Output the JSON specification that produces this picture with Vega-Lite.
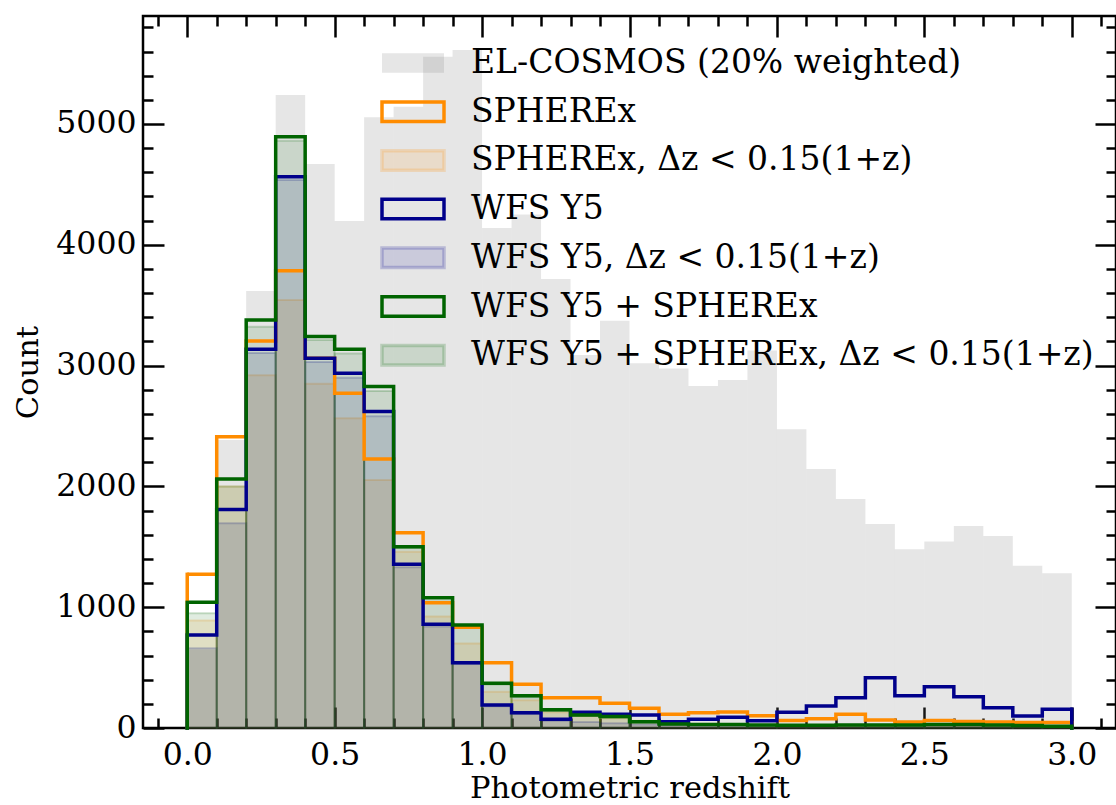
{
"$schema": "https://vega.github.io/schema/vega-lite/v6.json",
"width": 973, "height": 712,
"autosize": {"type": "none"},
"padding": {"left": 143, "top": 16, "right": 0, "bottom": 77},
"config": {
 "view": {"stroke": "black", "strokeWidth": 2.5},
 "font": "DejaVu Serif",
 "axis": {"domain": false, "grid": false, "tickColor": "black", "tickWidth": 2.5, "labelFont": "DejaVu Serif", "labelFontSize": 31.5, "labelColor": "black", "titleFont": "DejaVu Serif", "titleFontSize": 30.5, "titleFontWeight": "normal", "titleColor": "black", "labelOverlap": false, "labelFlush": false}
},
"datasets": {"h": [
{"s":"E","x0":0,"x1":0.1,"n":650},{"s":"E","x0":0.1,"x1":0.2,"n":2385},{"s":"E","x0":0.2,"x1":0.3,"n":3617},{"s":"E","x0":0.3,"x1":0.4,"n":5240},{"s":"E","x0":0.4,"x1":0.5,"n":4669},{"s":"E","x0":0.5,"x1":0.6,"n":4197},{"s":"E","x0":0.6,"x1":0.7,"n":5055},{"s":"E","x0":0.7,"x1":0.8,"n":5143},{"s":"E","x0":0.8,"x1":0.9,"n":5557},{"s":"E","x0":0.9,"x1":1,"n":5613},{"s":"E","x0":1,"x1":1.1,"n":4140},{"s":"E","x0":1.1,"x1":1.2,"n":4250},{"s":"E","x0":1.2,"x1":1.3,"n":3717},{"s":"E","x0":1.3,"x1":1.4,"n":3088},{"s":"E","x0":1.4,"x1":1.5,"n":3372},{"s":"E","x0":1.5,"x1":1.6,"n":3019},{"s":"E","x0":1.6,"x1":1.7,"n":2977},{"s":"E","x0":1.7,"x1":1.8,"n":2831},{"s":"E","x0":1.8,"x1":1.9,"n":2881},{"s":"E","x0":1.9,"x1":2,"n":3124},{"s":"E","x0":2,"x1":2.1,"n":2473},{"s":"E","x0":2.1,"x1":2.2,"n":2144},{"s":"E","x0":2.2,"x1":2.3,"n":1896},{"s":"E","x0":2.3,"x1":2.4,"n":1689},{"s":"E","x0":2.4,"x1":2.5,"n":1479},{"s":"E","x0":2.5,"x1":2.6,"n":1543},{"s":"E","x0":2.6,"x1":2.7,"n":1672},{"s":"E","x0":2.7,"x1":2.8,"n":1589},{"s":"E","x0":2.8,"x1":2.9,"n":1344},{"s":"E","x0":2.9,"x1":3,"n":1281},
{"s":"S","x0":0,"x1":0.1,"n":1272},{"s":"S","x0":0.1,"x1":0.2,"n":2410},{"s":"S","x0":0.2,"x1":0.3,"n":3204},{"s":"S","x0":0.3,"x1":0.4,"n":3786},{"s":"S","x0":0.4,"x1":0.5,"n":3060},{"s":"S","x0":0.5,"x1":0.6,"n":2771},{"s":"S","x0":0.6,"x1":0.7,"n":2227},{"s":"S","x0":0.7,"x1":0.8,"n":1617},{"s":"S","x0":0.8,"x1":0.9,"n":1037},{"s":"S","x0":0.9,"x1":1,"n":833},{"s":"S","x0":1,"x1":1.1,"n":541},{"s":"S","x0":1.1,"x1":1.2,"n":362},{"s":"S","x0":1.2,"x1":1.3,"n":251},{"s":"S","x0":1.3,"x1":1.4,"n":251},{"s":"S","x0":1.4,"x1":1.5,"n":204},{"s":"S","x0":1.5,"x1":1.6,"n":163},{"s":"S","x0":1.6,"x1":1.7,"n":113},{"s":"S","x0":1.7,"x1":1.8,"n":127},{"s":"S","x0":1.8,"x1":1.9,"n":132},{"s":"S","x0":1.9,"x1":2,"n":102},{"s":"S","x0":2,"x1":2.1,"n":63},{"s":"S","x0":2.1,"x1":2.2,"n":77},{"s":"S","x0":2.2,"x1":2.3,"n":113},{"s":"S","x0":2.3,"x1":2.4,"n":66},{"s":"S","x0":2.4,"x1":2.5,"n":50},{"s":"S","x0":2.5,"x1":2.6,"n":63},{"s":"S","x0":2.6,"x1":2.7,"n":53},{"s":"S","x0":2.7,"x1":2.8,"n":50},{"s":"S","x0":2.8,"x1":2.9,"n":45},{"s":"S","x0":2.9,"x1":3,"n":45},
{"s":"SD","x0":0,"x1":0.1,"n":890},{"s":"SD","x0":0.1,"x1":0.2,"n":2000},{"s":"SD","x0":0.2,"x1":0.3,"n":2920},{"s":"SD","x0":0.3,"x1":0.4,"n":3543},{"s":"SD","x0":0.4,"x1":0.5,"n":2850},{"s":"SD","x0":0.5,"x1":0.6,"n":2564},{"s":"SD","x0":0.6,"x1":0.7,"n":2053},{"s":"SD","x0":0.7,"x1":0.8,"n":1460},{"s":"SD","x0":0.8,"x1":0.9,"n":922},{"s":"SD","x0":0.9,"x1":1,"n":700},{"s":"SD","x0":1,"x1":1.1,"n":300},{"s":"SD","x0":1.1,"x1":1.2,"n":230},{"s":"SD","x0":1.2,"x1":1.3,"n":130},{"s":"SD","x0":1.3,"x1":1.4,"n":100},{"s":"SD","x0":1.4,"x1":1.5,"n":80},{"s":"SD","x0":1.5,"x1":1.6,"n":60},{"s":"SD","x0":1.6,"x1":1.7,"n":40},{"s":"SD","x0":1.7,"x1":1.8,"n":35},{"s":"SD","x0":1.8,"x1":1.9,"n":30},{"s":"SD","x0":1.9,"x1":2,"n":25},{"s":"SD","x0":2,"x1":2.1,"n":20},{"s":"SD","x0":2.1,"x1":2.2,"n":20},{"s":"SD","x0":2.2,"x1":2.3,"n":20},{"s":"SD","x0":2.3,"x1":2.4,"n":18},{"s":"SD","x0":2.4,"x1":2.5,"n":18},{"s":"SD","x0":2.5,"x1":2.6,"n":18},{"s":"SD","x0":2.6,"x1":2.7,"n":15},{"s":"SD","x0":2.7,"x1":2.8,"n":15},{"s":"SD","x0":2.8,"x1":2.9,"n":15},{"s":"SD","x0":2.9,"x1":3,"n":15},
{"s":"W","x0":0,"x1":0.1,"n":770},{"s":"W","x0":0.1,"x1":0.2,"n":1808},{"s":"W","x0":0.2,"x1":0.3,"n":3135},{"s":"W","x0":0.3,"x1":0.4,"n":4564},{"s":"W","x0":0.4,"x1":0.5,"n":3060},{"s":"W","x0":0.5,"x1":0.6,"n":2936},{"s":"W","x0":0.6,"x1":0.7,"n":2619},{"s":"W","x0":0.7,"x1":0.8,"n":1355},{"s":"W","x0":0.8,"x1":0.9,"n":858},{"s":"W","x0":0.9,"x1":1,"n":541},{"s":"W","x0":1,"x1":1.1,"n":190},{"s":"W","x0":1.1,"x1":1.2,"n":127},{"s":"W","x0":1.2,"x1":1.3,"n":73},{"s":"W","x0":1.3,"x1":1.4,"n":130},{"s":"W","x0":1.4,"x1":1.5,"n":114},{"s":"W","x0":1.5,"x1":1.6,"n":108},{"s":"W","x0":1.6,"x1":1.7,"n":52},{"s":"W","x0":1.7,"x1":1.8,"n":72},{"s":"W","x0":1.8,"x1":1.9,"n":88},{"s":"W","x0":1.9,"x1":2,"n":61},{"s":"W","x0":2,"x1":2.1,"n":130},{"s":"W","x0":2.1,"x1":2.2,"n":182},{"s":"W","x0":2.2,"x1":2.3,"n":251},{"s":"W","x0":2.3,"x1":2.4,"n":417},{"s":"W","x0":2.4,"x1":2.5,"n":268},{"s":"W","x0":2.5,"x1":2.6,"n":342},{"s":"W","x0":2.6,"x1":2.7,"n":259},{"s":"W","x0":2.7,"x1":2.8,"n":168},{"s":"W","x0":2.8,"x1":2.9,"n":99},{"s":"W","x0":2.9,"x1":3,"n":155},
{"s":"WD","x0":0,"x1":0.1,"n":660},{"s":"WD","x0":0.1,"x1":0.2,"n":1694},{"s":"WD","x0":0.2,"x1":0.3,"n":3104},{"s":"WD","x0":0.3,"x1":0.4,"n":4536},{"s":"WD","x0":0.4,"x1":0.5,"n":3030},{"s":"WD","x0":0.5,"x1":0.6,"n":2900},{"s":"WD","x0":0.6,"x1":0.7,"n":2580},{"s":"WD","x0":0.7,"x1":0.8,"n":1330},{"s":"WD","x0":0.8,"x1":0.9,"n":840},{"s":"WD","x0":0.9,"x1":1,"n":530},{"s":"WD","x0":1,"x1":1.1,"n":180},{"s":"WD","x0":1.1,"x1":1.2,"n":115},{"s":"WD","x0":1.2,"x1":1.3,"n":60},{"s":"WD","x0":1.3,"x1":1.4,"n":50},{"s":"WD","x0":1.4,"x1":1.5,"n":40},{"s":"WD","x0":1.5,"x1":1.6,"n":30},{"s":"WD","x0":1.6,"x1":1.7,"n":22},{"s":"WD","x0":1.7,"x1":1.8,"n":20},{"s":"WD","x0":1.8,"x1":1.9,"n":20},{"s":"WD","x0":1.9,"x1":2,"n":20},{"s":"WD","x0":2,"x1":2.1,"n":20},{"s":"WD","x0":2.1,"x1":2.2,"n":20},{"s":"WD","x0":2.2,"x1":2.3,"n":22},{"s":"WD","x0":2.3,"x1":2.4,"n":22},{"s":"WD","x0":2.4,"x1":2.5,"n":20},{"s":"WD","x0":2.5,"x1":2.6,"n":20},{"s":"WD","x0":2.6,"x1":2.7,"n":20},{"s":"WD","x0":2.7,"x1":2.8,"n":18},{"s":"WD","x0":2.8,"x1":2.9,"n":15},{"s":"WD","x0":2.9,"x1":3,"n":15},
{"s":"C","x0":0,"x1":0.1,"n":1040},{"s":"C","x0":0.1,"x1":0.2,"n":2061},{"s":"C","x0":0.2,"x1":0.3,"n":3377},{"s":"C","x0":0.3,"x1":0.4,"n":4895},{"s":"C","x0":0.4,"x1":0.5,"n":3240},{"s":"C","x0":0.5,"x1":0.6,"n":3135},{"s":"C","x0":0.6,"x1":0.7,"n":2826},{"s":"C","x0":0.7,"x1":0.8,"n":1501},{"s":"C","x0":0.8,"x1":0.9,"n":1079},{"s":"C","x0":0.9,"x1":1,"n":853},{"s":"C","x0":1,"x1":1.1,"n":370},{"s":"C","x0":1.1,"x1":1.2,"n":268},{"s":"C","x0":1.2,"x1":1.3,"n":152},{"s":"C","x0":1.3,"x1":1.4,"n":108},{"s":"C","x0":1.4,"x1":1.5,"n":96},{"s":"C","x0":1.5,"x1":1.6,"n":52},{"s":"C","x0":1.6,"x1":1.7,"n":33},{"s":"C","x0":1.7,"x1":1.8,"n":30},{"s":"C","x0":1.8,"x1":1.9,"n":28},{"s":"C","x0":1.9,"x1":2,"n":25},{"s":"C","x0":2,"x1":2.1,"n":22},{"s":"C","x0":2.1,"x1":2.2,"n":22},{"s":"C","x0":2.2,"x1":2.3,"n":25},{"s":"C","x0":2.3,"x1":2.4,"n":25},{"s":"C","x0":2.4,"x1":2.5,"n":25},{"s":"C","x0":2.5,"x1":2.6,"n":28},{"s":"C","x0":2.6,"x1":2.7,"n":28},{"s":"C","x0":2.7,"x1":2.8,"n":25},{"s":"C","x0":2.8,"x1":2.9,"n":20},{"s":"C","x0":2.9,"x1":3,"n":15},
{"s":"CD","x0":0,"x1":0.1,"n":950},{"s":"CD","x0":0.1,"x1":0.2,"n":2000},{"s":"CD","x0":0.2,"x1":0.3,"n":3322},{"s":"CD","x0":0.3,"x1":0.4,"n":4862},{"s":"CD","x0":0.4,"x1":0.5,"n":3212},{"s":"CD","x0":0.5,"x1":0.6,"n":3100},{"s":"CD","x0":0.6,"x1":0.7,"n":2790},{"s":"CD","x0":0.7,"x1":0.8,"n":1490},{"s":"CD","x0":0.8,"x1":0.9,"n":1050},{"s":"CD","x0":0.9,"x1":1,"n":830},{"s":"CD","x0":1,"x1":1.1,"n":360},{"s":"CD","x0":1.1,"x1":1.2,"n":255},{"s":"CD","x0":1.2,"x1":1.3,"n":140},{"s":"CD","x0":1.3,"x1":1.4,"n":100},{"s":"CD","x0":1.4,"x1":1.5,"n":85},{"s":"CD","x0":1.5,"x1":1.6,"n":45},{"s":"CD","x0":1.6,"x1":1.7,"n":28},{"s":"CD","x0":1.7,"x1":1.8,"n":25},{"s":"CD","x0":1.8,"x1":1.9,"n":24},{"s":"CD","x0":1.9,"x1":2,"n":22},{"s":"CD","x0":2,"x1":2.1,"n":20},{"s":"CD","x0":2.1,"x1":2.2,"n":20},{"s":"CD","x0":2.2,"x1":2.3,"n":22},{"s":"CD","x0":2.3,"x1":2.4,"n":22},{"s":"CD","x0":2.4,"x1":2.5,"n":22},{"s":"CD","x0":2.5,"x1":2.6,"n":24},{"s":"CD","x0":2.6,"x1":2.7,"n":24},{"s":"CD","x0":2.7,"x1":2.8,"n":22},{"s":"CD","x0":2.8,"x1":2.9,"n":18},{"s":"CD","x0":2.9,"x1":3,"n":14}
]},
"data": {"name": "h"},
"resolve": {"axis": {"x": "independent", "y": "independent"}},
"layer": [
 {
  "transform": [{"filter": "datum.s == 'E'"}],
  "mark": {"type": "bar", "strokeWidth": 0},
  "encoding": {
   "x": {"field": "x0", "type": "quantitative", "scale": {"domain": [-0.15, 3.15], "nice": false, "zero": false},
     "axis": {"orient": "bottom", "values": [-0.1,0,0.1,0.2,0.3,0.4,0.5,0.6,0.7,0.8,0.9,1,1.1,1.2,1.3,1.4,1.5,1.6,1.7,1.8,1.9,2,2.1,2.2,2.3,2.4,2.5,2.6,2.7,2.8,2.9,3,3.1],
       "labelExpr": "abs(datum.value*2-round(datum.value*2))<0.001 ? format(datum.value,'.1f') : ''",
       "tickSize": {"condition": {"test": "abs(datum.value*2-round(datum.value*2))<0.001", "value": -21}, "value": -10},
       "labelPadding": 32, "title": "Photometric redshift", "titlePadding": -8}},
   "x2": {"field": "x1"},
   "y": {"field": "n", "type": "quantitative", "scale": {"domain": [0, 5894], "nice": false},
     "axis": {"orient": "left", "values": [0,200,400,600,800,1000,1200,1400,1600,1800,2000,2200,2400,2600,2800,3000,3200,3400,3600,3800,4000,4200,4400,4600,4800,5000,5200,5400,5600,5800],
       "labelExpr": "datum.value % 1000 == 0 ? format(datum.value, 'd') : ''",
       "tickSize": {"condition": {"test": "datum.value % 1000 == 0", "value": -21}, "value": -10},
       "labelPadding": 28, "title": "Count", "titlePadding": 12}},
   "y2": {"datum": 0},
   "fill": {"field": "s", "type": "nominal",
     "scale": {"domain": ["E","S","SD","W","WD","C","CD"], "range": ["rgba(128,128,128,0.2)","rgba(255,255,255,0)","rgba(255,140,0,0.12)","rgba(255,255,255,0)","rgba(0,0,139,0.12)","rgba(255,255,255,0)","rgba(0,100,0,0.12)"]},
     "legend": {"title": null, "orient": "none", "legendX": 237, "legendY": 24, "symbolType": "M-1,-0.315H1V0.315H-1Z", "symbolSize": 3844, "symbolStrokeWidth": 3.5, "symbolOpacity": 1, "labelFont": "DejaVu Serif", "labelFontSize": 33, "labelColor": "black", "labelLimit": 0, "labelOffset": 25, "clipHeight": 46, "rowPadding": 2.7,
       "labelExpr": "{'E':'EL-COSMOS (20% weighted)','S':'SPHEREx','SD':'SPHEREx, Δz < 0.15(1+z)','W':'WFS Y5','WD':'WFS Y5, Δz < 0.15(1+z)','C':'WFS Y5 + SPHEREx','CD':'WFS Y5 + SPHEREx, Δz < 0.15(1+z)'}[datum.label]",
       "encode": {"symbols": {"update": {"fill": {"signal": "{'E':'rgba(128,128,128,0.2)','S':'rgba(255,255,255,0)','SD':'rgba(255,140,0,0.18)','W':'rgba(255,255,255,0)','WD':'rgba(0,0,139,0.18)','C':'rgba(255,255,255,0)','CD':'rgba(0,100,0,0.18)'}[datum.value]"}, "stroke": {"scale": "stroke", "field": "value"}, "opacity": {"value": 1}}}}}},
   "stroke": {"field": "s", "type": "nominal",
     "scale": {"domain": ["E","S","SD","W","WD","C","CD"], "range": ["rgba(255,255,255,0)","#ff8c00","rgba(255,140,0,0.2)","#00008b","rgba(0,0,139,0.2)","#006400","rgba(0,100,0,0.2)"]},
     "legend": {"title": null, "orient": "none", "legendX": 237, "legendY": 24, "symbolType": "M-1,-0.315H1V0.315H-1Z", "symbolSize": 3844, "symbolStrokeWidth": 3.5, "symbolOpacity": 1, "labelFont": "DejaVu Serif", "labelFontSize": 33, "labelColor": "black", "labelLimit": 0, "labelOffset": 25, "clipHeight": 46, "rowPadding": 2.7,
       "labelExpr": "{'E':'EL-COSMOS (20% weighted)','S':'SPHEREx','SD':'SPHEREx, Δz < 0.15(1+z)','W':'WFS Y5','WD':'WFS Y5, Δz < 0.15(1+z)','C':'WFS Y5 + SPHEREx','CD':'WFS Y5 + SPHEREx, Δz < 0.15(1+z)'}[datum.label]",
       "encode": {"symbols": {"update": {"fill": {"signal": "{'E':'rgba(128,128,128,0.2)','S':'rgba(255,255,255,0)','SD':'rgba(255,140,0,0.18)','W':'rgba(255,255,255,0)','WD':'rgba(0,0,139,0.18)','C':'rgba(255,255,255,0)','CD':'rgba(0,100,0,0.18)'}[datum.value]"}, "stroke": {"scale": "stroke", "field": "value"}, "opacity": {"value": 1}}}}}}
  }
 },
 {
  "transform": [{"filter": "indexof(['SD','WD','CD'], datum.s) >= 0"}],
  "mark": {"type": "bar", "strokeWidth": 2},
  "encoding": {
   "x": {"field": "x0", "type": "quantitative", "scale": {"domain": [-0.15, 3.15], "nice": false, "zero": false},
     "axis": {"orient": "top", "values": [-0.1,0,0.1,0.2,0.3,0.4,0.5,0.6,0.7,0.8,0.9,1,1.1,1.2,1.3,1.4,1.5,1.6,1.7,1.8,1.9,2,2.1,2.2,2.3,2.4,2.5,2.6,2.7,2.8,2.9,3,3.1],
       "labels": false, "title": null,
       "tickSize": {"condition": {"test": "abs(datum.value*2-round(datum.value*2))<0.001", "value": -21}, "value": -10}}},
   "x2": {"field": "x1"},
   "y": {"field": "n", "type": "quantitative", "scale": {"domain": [0, 5894], "nice": false},
     "axis": {"orient": "right", "values": [0,200,400,600,800,1000,1200,1400,1600,1800,2000,2200,2400,2600,2800,3000,3200,3400,3600,3800,4000,4200,4400,4600,4800,5000,5200,5400,5600,5800],
       "labels": false, "title": null,
       "tickSize": {"condition": {"test": "datum.value % 1000 == 0", "value": -21}, "value": -10}}},
   "y2": {"datum": 0},
   "fill": {"field": "s", "type": "nominal",
     "scale": {"domain": ["E","S","SD","W","WD","C","CD"], "range": ["rgba(128,128,128,0.2)","rgba(255,255,255,0)","rgba(255,140,0,0.12)","rgba(255,255,255,0)","rgba(0,0,139,0.12)","rgba(255,255,255,0)","rgba(0,100,0,0.12)"]}},
   "stroke": {"field": "s", "type": "nominal",
     "scale": {"domain": ["E","S","SD","W","WD","C","CD"], "range": ["rgba(255,255,255,0)","#ff8c00","rgba(255,140,0,0.2)","#00008b","rgba(0,0,139,0.2)","#006400","rgba(0,100,0,0.2)"]}}
  }
 },
 {
  "transform": [{"filter": "indexof(['S','W','C'], datum.s) >= 0"}, {"fold": ["x0", "x1"], "as": ["k", "xv"]}],
  "mark": {"type": "line", "strokeWidth": 3.5, "strokeJoin": "miter"},
  "encoding": {
   "x": {"field": "xv", "type": "quantitative", "scale": {"domain": [-0.15, 3.15], "nice": false, "zero": false}, "axis": null},
   "y": {"field": "n", "type": "quantitative", "scale": {"domain": [0, 5894], "nice": false}, "axis": null},
   "order": [{"field": "x0", "type": "quantitative"}, {"field": "k", "type": "ordinal"}],
   "stroke": {"field": "s", "type": "nominal",
     "scale": {"domain": ["E","S","SD","W","WD","C","CD"], "range": ["rgba(255,255,255,0)","#ff8c00","rgba(255,140,0,0.2)","#00008b","rgba(0,0,139,0.2)","#006400","rgba(0,100,0,0.2)"]}}
  }
 },
 {
  "transform": [{"filter": "datum.x0 == 0 && indexof(['S','W','C'], datum.s) >= 0"}],
  "mark": {"type": "rule", "strokeWidth": 3.5, "strokeCap": "square"},
  "encoding": {
   "x": {"field": "x0", "type": "quantitative", "scale": {"domain": [-0.15, 3.15], "nice": false, "zero": false}, "axis": null},
   "y": {"field": "n", "type": "quantitative", "scale": {"domain": [0, 5894], "nice": false}, "axis": null},
   "y2": {"datum": 0},
   "stroke": {"field": "s", "type": "nominal",
     "scale": {"domain": ["E","S","SD","W","WD","C","CD"], "range": ["rgba(255,255,255,0)","#ff8c00","rgba(255,140,0,0.2)","#00008b","rgba(0,0,139,0.2)","#006400","rgba(0,100,0,0.2)"]}}
  }
 },
 {
  "transform": [{"filter": "datum.x1 == 3 && indexof(['S','W','C'], datum.s) >= 0"}],
  "mark": {"type": "rule", "strokeWidth": 3.5, "strokeCap": "square"},
  "encoding": {
   "x": {"field": "x1", "type": "quantitative", "scale": {"domain": [-0.15, 3.15], "nice": false, "zero": false}, "axis": null},
   "y": {"field": "n", "type": "quantitative", "scale": {"domain": [0, 5894], "nice": false}, "axis": null},
   "y2": {"datum": 0},
   "stroke": {"field": "s", "type": "nominal",
     "scale": {"domain": ["E","S","SD","W","WD","C","CD"], "range": ["rgba(255,255,255,0)","#ff8c00","rgba(255,140,0,0.2)","#00008b","rgba(0,0,139,0.2)","#006400","rgba(0,100,0,0.2)"]}}
  }
 }
]
}
